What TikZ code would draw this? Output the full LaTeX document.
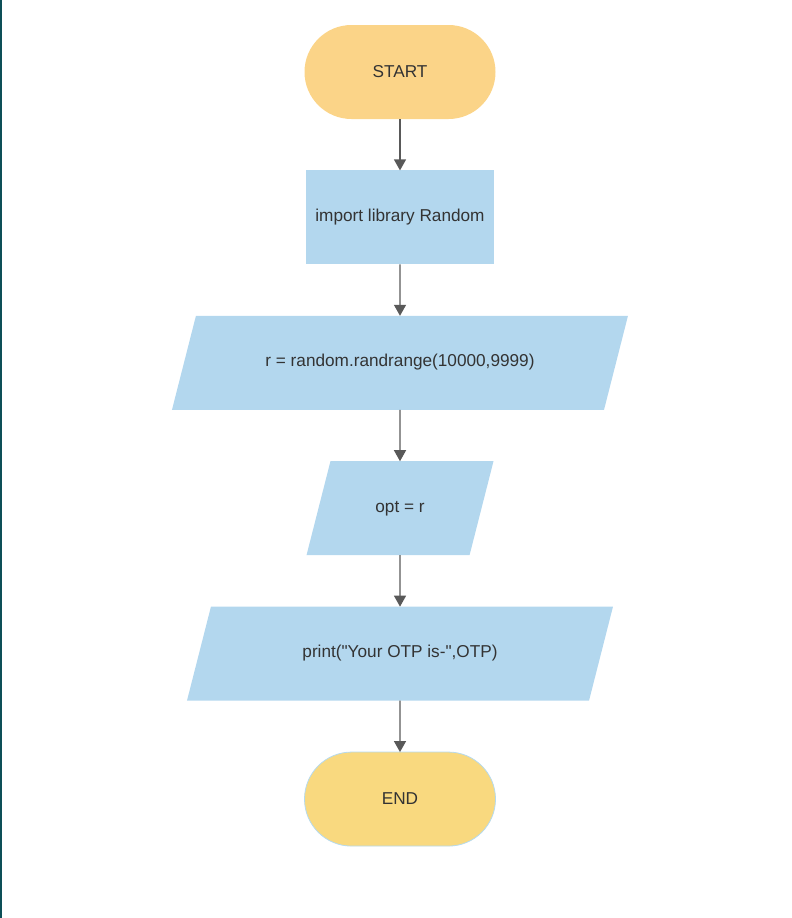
\documentclass[tikz,border=0pt]{standalone}
\usepackage{fontspec}
\setmainfont{Liberation Sans}[Ligatures=TeXOff]
\usetikzlibrary{positioning,shapes.geometric,arrows.meta}

\definecolor{startfill}{HTML}{FBD488}
\definecolor{endfill}{HTML}{F9D97F}
\definecolor{endline}{HTML}{B5DAEE}
\definecolor{boxfill}{HTML}{B3D7EE}
\definecolor{lineg}{HTML}{595959}
\definecolor{textg}{HTML}{333333}
\definecolor{pageedge}{HTML}{0D4F57}

\begin{document}
\begin{tikzpicture}[
x=1pt,y=1pt,
term/.style={
  rectangle,
  rounded corners=47pt,
  minimum width=191pt,
  minimum height=94pt,
  outer sep=0pt
},
proc/.style={
  rectangle,
  fill=boxfill,
  minimum width=188pt,
  minimum height=94pt,
  outer sep=0pt
},
io/.style={
  trapezium,
  trapezium left angle=75.7,
  trapezium right angle=104.3,
  trapezium stretches body,
  fill=boxfill,
  text height=12pt,
  text depth=4pt,
  inner ysep=39pt,
  inner xsep=0pt,
  outer sep=0pt
},
arrow/.style={draw=lineg, line width=1.3pt, -{Triangle[length=11pt,width=12pt]}},
node distance=51.4pt,
every node/.style={text=textg, font=\fontsize{17.2}{20}\selectfont}
]
\useasboundingbox (0,0) rectangle (792,-918);
\draw[pageedge, line width=1.5pt] (0.75,0) -- (0.75,-918);

\node[term, fill=startfill] at (400,-72)
  (start) {START};
\node[proc, below=of start]
  (lib) {import library Random};
\node[io, below=of lib, minimum width=456pt]
  (rnd) {r = random.randrange(10000,9999)};
\node[io, below=of rnd, minimum width=187pt]
  (opt) {opt = r};
\node[io, below=of opt, minimum width=426pt]
  (out) {print("Your OTP is-",OTP)};
\node[term, fill=endfill, draw=endline, line width=0.8pt, below=of out]
  (stop) {END};

\draw[arrow] (start) -- (lib);
\draw[arrow] (lib) -- (rnd);
\draw[arrow] (rnd) -- (opt);
\draw[arrow] (opt) -- (out);
\draw[arrow] (out) -- (stop);
\end{tikzpicture}
\end{document}
